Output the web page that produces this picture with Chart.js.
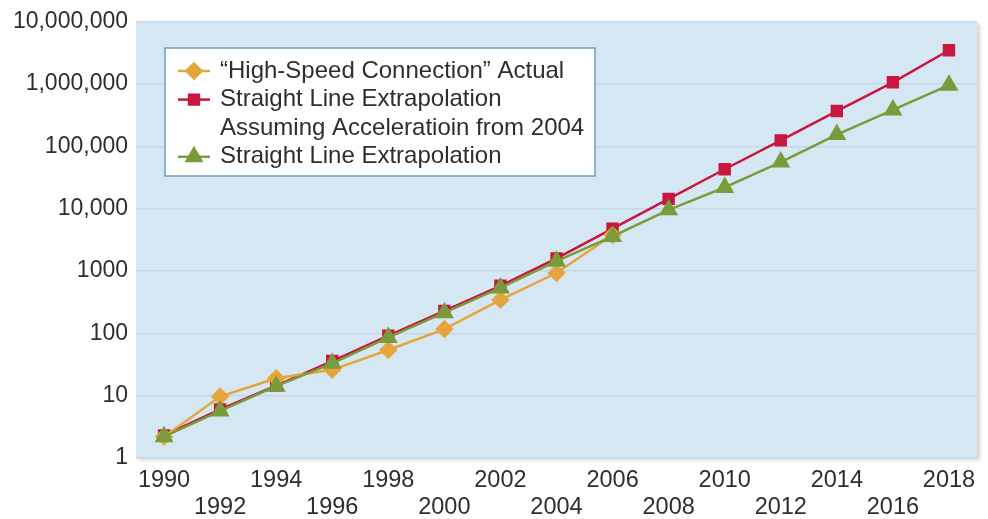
<!DOCTYPE html>
<html>
<head>
<meta charset="utf-8">
<script src="https://cdn.jsdelivr.net/npm/chart.js@4.4.1/dist/chart.umd.min.js"></script>
<style>
  body { margin: 0; background: #fff; }
  #wrap { width: 988px; height: 519px; }
</style>
</head>
<body>
<div id="wrap"><canvas id="growthChart" width="988" height="519"></canvas></div>
<script>
// years on the x axis, one point every two years
const years = ["1990", "1992", "1994", "1996", "1998", "2000", "2002", "2004",
  "2006", "2008", "2010", "2012", "2014", "2016", "2018"];

// "High-Speed Connection" actual (stops at 2006)
const actual = [2.2, 9.7, 19, 26, 54, 117, 346, 930, 3800,
  null, null, null, null, null, null];

// straight line extrapolation assuming acceleration from 2004
const accelerated = [2.3, 6, 14.5, 36, 92, 230, 580, 1600, 4800,
  14400, 43000, 125000, 370000, 1070000, 3500000];

// straight line extrapolation
const straight = [2.2, 5.7, 14.2, 33, 86, 215, 535, 1440, 3600,
  9600, 22000, 56000, 155000, 385000, 960000];

const yTicks = [1, 10, 100, 1000, 10000, 100000, 1000000, 10000000];
const yTickLabels = ["1", "10", "100", "1000", "10,000", "100,000", "1,000,000", "10,000,000"];

const legendLabels = [
  ["\u201cHigh-Speed Connection\u201d Actual"],
  ["Straight Line Extrapolation", "Assuming Acceleratioin from 2004"],
  ["Straight Line Extrapolation"],
];

const FONT = "'Liberation Sans', Arial, sans-serif";
const TEXT = "#2e2e2e";

// light blue plot background with a soft shadow
const plotBackground = {
  id: "plotBackground",
  beforeDraw(chart) {
    const { ctx, chartArea: a } = chart;
    ctx.save();
    ctx.shadowColor = "rgba(0,0,0,0.18)";
    ctx.shadowBlur = 4;
    ctx.shadowOffsetX = 3;
    ctx.shadowOffsetY = 2;
    ctx.fillStyle = "#d6e7f4";
    ctx.fillRect(a.left, a.top, a.right - a.left, a.bottom - a.top);
    ctx.restore();
  },
};

// boxed legend inside the plot, the second entry runs over two lines
const boxLegend = {
  id: "boxLegend",
  afterDraw(chart) {
    const { ctx } = chart;
    const box = { x: 165, y: 48, w: 430, h: 128 };
    ctx.save();
    ctx.fillStyle = "#ffffff";
    ctx.fillRect(box.x, box.y, box.w, box.h);
    ctx.strokeStyle = "#6a9fc2";
    ctx.lineWidth = 1.5;
    ctx.strokeRect(box.x, box.y, box.w, box.h);

    ctx.font = "24px " + FONT;
    ctx.textBaseline = "middle";
    const lineH = 28.6;
    let y = 71;
    [0, 1, 2].forEach((i) => {
      const ds = chart.data.datasets[i];
      ctx.strokeStyle = ds.borderColor;
      ctx.lineWidth = 2.5;
      ctx.beginPath();
      ctx.moveTo(178, y);
      ctx.lineTo(210, y);
      ctx.stroke();
      Chart.helpers.drawPoint(ctx, {
        pointStyle: ds.pointStyle,
        radius: ds.pointRadius,
        rotation: 0,
        borderWidth: 1,
      }, 194, y);
      ctx.fillStyle = ds.pointBackgroundColor;
      ctx.strokeStyle = ds.pointBorderColor;
      ctx.fill();
      ctx.fillStyle = TEXT;
      legendLabels[i].forEach((line) => {
        ctx.fillText(line, 220, y);
        y += lineH;
      });
    });
    ctx.restore();
  },
};

new Chart(document.getElementById("growthChart"), {
  type: "line",
  data: {
    labels: years,
    datasets: [
      {
        label: legendLabels[0].join(" "),
        data: actual,
        borderColor: "#e3a53c",
        pointBackgroundColor: "#e3a53c",
        pointBorderColor: "#e3a53c",
        pointStyle: "rectRot",
        pointRadius: 7.5,
        borderWidth: 2.5,
        order: 1,
      },
      {
        label: legendLabels[1].join(" "),
        data: accelerated,
        borderColor: "#c8173f",
        pointBackgroundColor: "#c8173f",
        pointBorderColor: "#c8173f",
        pointStyle: "rect",
        pointRadius: 7,
        borderWidth: 2.5,
        order: 2,
      },
      {
        label: legendLabels[2].join(" "),
        data: straight,
        borderColor: "#7b9a3c",
        pointBackgroundColor: "#7b9a3c",
        pointBorderColor: "#7b9a3c",
        pointStyle: "triangle",
        pointRadius: 8.5,
        borderWidth: 2.5,
        order: 0,
      },
    ],
  },
  options: {
    responsive: false,
    animation: false,
    layout: { padding: { top: 18, right: 10, left: 0, bottom: 0 } },
    plugins: {
      legend: { display: false },
      tooltip: { enabled: false },
    },
    scales: {
      x: {
        offset: true,
        grid: { display: false, drawTicks: false, tickLength: 0 },
        border: { display: false },
        ticks: {
          autoSkip: false,
          maxRotation: 0,
          padding: 9,
          color: TEXT,
          font: { family: FONT, size: 23.5, lineHeight: 1.15 },
          callback: (value, index) => (index % 2 === 0 ? [years[index]] : [" ", years[index]]),
        },
        afterFit: (scale) => { scale.height = 61; },
      },
      y: {
        type: "logarithmic",
        min: 1,
        max: 10000000,
        grid: { color: "#c3d9ea", lineWidth: 1.5, drawTicks: false },
        border: { display: false },
        afterBuildTicks: (scale) => { scale.ticks = yTicks.map((v) => ({ value: v })); },
        ticks: {
          padding: 8,
          color: TEXT,
          font: { family: FONT, size: 23 },
          callback: (value) => yTickLabels[yTicks.indexOf(value)],
        },
        afterFit: (scale) => { scale.width = 136; },
      },
    },
  },
  plugins: [plotBackground, boxLegend],
});
</script>
</body>
</html>
